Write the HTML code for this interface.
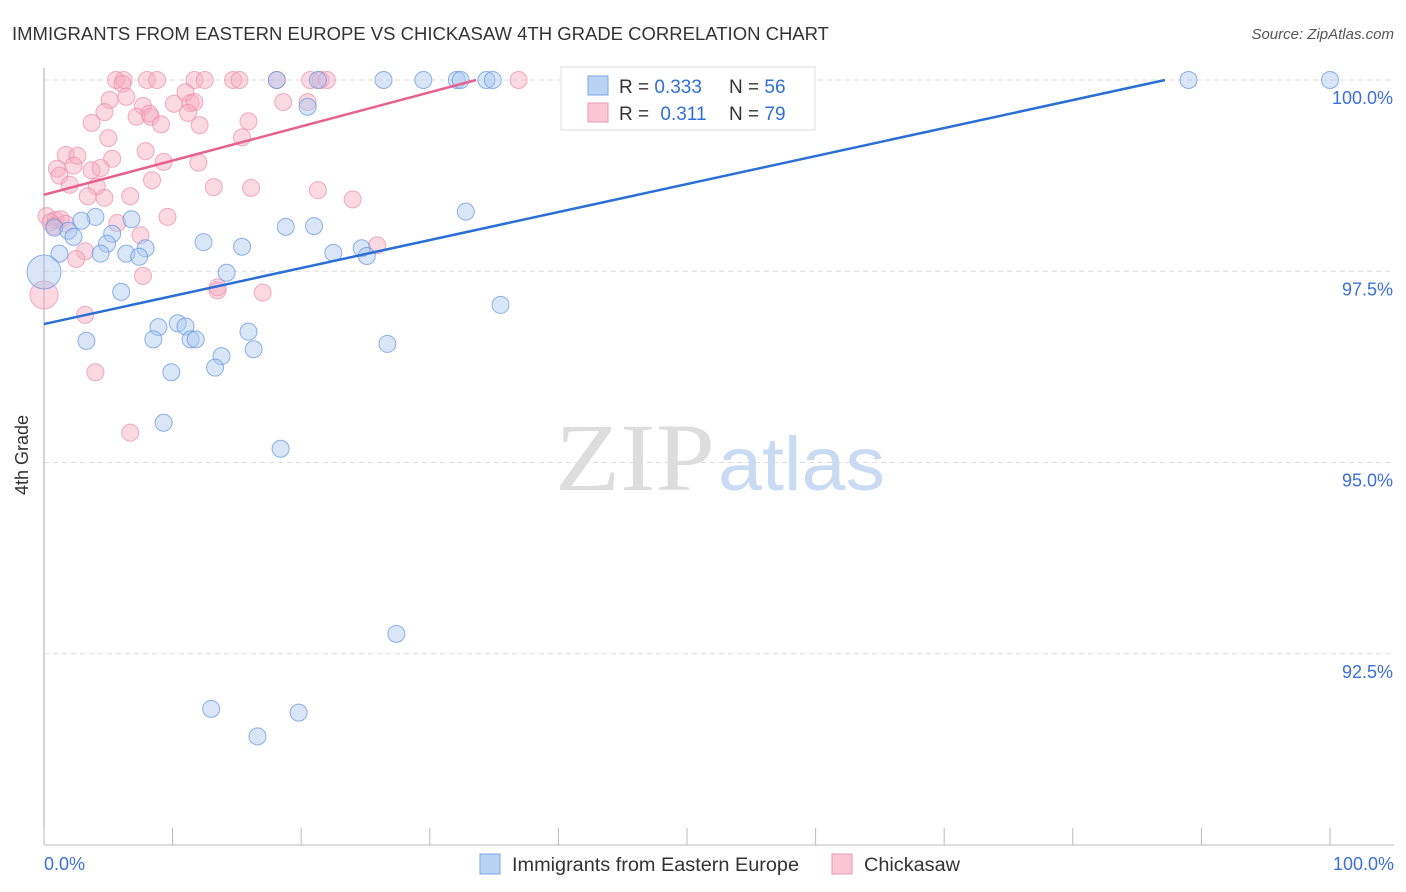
<!DOCTYPE html>
<html><head><meta charset="utf-8"><style>
body{margin:0;background:#fff;font-family:"Liberation Sans",sans-serif;}
#wrap{position:relative;width:1406px;height:892px;overflow:hidden;}
</style></head><body>
<div id="wrap">
<svg id="chart" width="1406" height="892" xmlns="http://www.w3.org/2000/svg">
<text x="12" y="40" font-size="18" fill="#333" textLength="817" lengthAdjust="spacingAndGlyphs">IMMIGRANTS FROM EASTERN EUROPE VS CHICKASAW 4TH GRADE CORRELATION CHART</text>
<text x="1394" y="39" font-size="15" fill="#555" font-style="italic" text-anchor="end">Source: ZipAtlas.com</text>
<g id="grid"></g>
<text x="555" y="490" font-size="96" fill="#ddd" font-family="Liberation Serif,serif" textLength="160" lengthAdjust="spacingAndGlyphs">ZIP</text>
<text x="718" y="490" font-size="76" fill="#c9daf3" textLength="167" lengthAdjust="spacingAndGlyphs">atlas</text>
<g id="points"></g>
<g id="lines"></g>
<text x="28" y="455" font-size="18" fill="#333" transform="rotate(-90 28 455)" text-anchor="middle">4th Grade</text>
<text x="44" y="870" font-size="18" fill="#3a6fd8">0.0%</text>
<text x="1394" y="870" font-size="18" fill="#3a6fd8" text-anchor="end">100.0%</text>
<g>
<rect x="561" y="67" width="254" height="63" fill="#fff" stroke="#ddd"/>
<rect x="588" y="76" width="20" height="19" fill="#b9d3f5" stroke="#7aa6e6"/>
<rect x="588" y="103" width="20" height="19" fill="#fac6d6" stroke="#ee9ab4"/>
<text x="619" y="93" font-size="19" fill="#333">R = <tspan fill="#2f6fd6">0.333</tspan></text>
<text x="729" y="93" font-size="19" fill="#333">N = <tspan fill="#2f6fd6">56</tspan></text>
<text x="619" y="120" font-size="19" fill="#333">R = <tspan fill="#2f6fd6" dx="6">0.311</tspan></text>
<text x="729" y="120" font-size="19" fill="#333">N = <tspan fill="#2f6fd6">79</tspan></text>
</g>
<g>
<rect x="480" y="854" width="20" height="20" fill="#b9d3f5" stroke="#7aa6e6"/>
<text x="512" y="871" font-size="19" fill="#333" textLength="287" lengthAdjust="spacingAndGlyphs">Immigrants from Eastern Europe</text>
<rect x="832" y="854" width="20" height="20" fill="#fac6d6" stroke="#ee9ab4"/>
<text x="864" y="871" font-size="19" fill="#333" textLength="96" lengthAdjust="spacingAndGlyphs">Chickasaw</text>
</g>
</svg>
</div>
<script>
const yTicks=[100,97.5,95,92.5];
const yTickLabels=["100.0%","97.5%","95.0%","92.5%"];
const xTicks=[0,10,20,30,40,50,60,70,80,90,100];
const blueX=[18.1,21.3,26.4,29.5,32.1,32.4,34.4,34.9,89.0,100,20.5,32.8,4.0,6.8,2.9,0.8,1.9,2.3,5.3,4.9,7.9,12.4,15.4,18.8,21.0,24.7,22.5,25.1,6.4,7.4,4.4,1.2,0,14.2,6.0,35.5,8.9,10.4,11.0,15.9,8.5,11.4,11.8,3.3,26.7,16.3,13.8,9.9,13.3,9.3,18.4,27.4,13.0,19.8,16.6];
const blueY=[100,100,100,100,100,100,100,100,100,100,99.65,98.28,98.21,98.18,98.16,98.07,98.03,97.95,97.99,97.86,97.80,97.88,97.82,98.08,98.09,97.80,97.74,97.70,97.73,97.69,97.73,97.73,97.49,97.48,97.23,97.06,96.77,96.82,96.78,96.71,96.61,96.61,96.61,96.59,96.55,96.48,96.39,96.18,96.24,95.52,95.18,92.76,91.78,91.73,91.42];
const blueBig=[32];
const pinkX=[5.6,6.2,8.0,8.8,11.7,12.5,14.7,15.2,18.1,20.7,21.5,22.0,36.9,6.1,6.4,5.1,4.7,11.0,7.7,10.1,11.4,11.7,7.2,8.3,8.2,11.2,3.7,9.1,12.1,20.5,5.0,15.4,15.9,18.6,7.9,5.3,1.7,2.6,1.0,3.7,4.4,2.3,9.3,12.0,1.2,2.0,4.1,8.4,13.2,16.1,21.3,24.0,3.4,6.7,4.7,0.2,0.9,1.3,1.7,9.6,5.7,7.5,25.9,3.2,2.5,7.7,13.5,13.5,17.0,0,3.2,4.0,6.7,0.5,0.8];
const pinkY=[100,100,100,100,100,100,100,100,100,100,100,100,100,99.95,99.78,99.74,99.58,99.84,99.66,99.69,99.70,99.71,99.52,99.52,99.56,99.57,99.44,99.42,99.41,99.71,99.24,99.25,99.46,99.71,99.07,98.97,99.02,99.01,98.84,98.82,98.85,98.88,98.93,98.92,98.75,98.63,98.61,98.69,98.60,98.59,98.56,98.44,98.48,98.48,98.46,98.22,98.17,98.18,98.12,98.21,98.13,97.97,97.84,97.76,97.66,97.44,97.25,97.29,97.22,97.19,96.93,96.18,95.39,98.14,98.09];
const pinkBig=[69];
const blueLine=[[0,96.81],[87.17,100]];
const pinkLine=[[0,98.50],[33.6,100]];
const X0=44,X1=1330,Y100=80,PXPER=76.5;
const sx=v=>X0+(X1-X0)*v/100;
const sy=v=>Y100+(100-v)*PXPER;
const NS="http://www.w3.org/2000/svg";
const grid=document.getElementById('grid');
function mk(t,a,p){const e=document.createElementNS(NS,t);for(const k in a)e.setAttribute(k,a[k]);p.appendChild(e);return e;}
yTicks.forEach((v,i)=>{
 const l=mk('line',{x1:44,x2:1394,y1:sy(v),y2:sy(v),stroke:'#ddd','stroke-dasharray':'5,4'},grid);
 
 
 const t=mk('text',{x:1393,y:sy(v)+24,'font-size':18,fill:'#3a6fd8','text-anchor':'end'},grid);
 t.textContent=yTickLabels[i];
 
 
});
const ax=mk('line',{x1:44,x2:44,y1:68,y2:845,stroke:'#aaa'},grid);


const bx=mk('line',{x1:44,x2:1394,y1:845,y2:845,stroke:'#bbb'},grid);


xTicks.forEach(v=>{
 const l=mk('line',{x1:sx(v),x2:sx(v),y1:828,y2:845,stroke:'#bbb'},grid);
 
 
});
const pts=document.getElementById('points');
function draw(xs,ys,big,fill,stroke,name,bigR){
 xs.forEach((x,i)=>{
  const r=big.includes(i)?bigR:8.5;
  const c=mk('circle',{cx:sx(x),cy:sy(ys[i]),r:r,fill:fill,'fill-opacity':0.45,stroke:stroke,'stroke-opacity':0.7,'stroke-width':1},pts);
  
  
 });
}
draw(pinkX,pinkY,pinkBig,'#f7aac2','#ec8aaa','point-chickasaw',14);
draw(blueX,blueY,blueBig,'#a9c8f0','#5f93e0','point-immigrants',17);
const lines=document.getElementById('lines');
const bl=mk('line',{x1:sx(blueLine[0][0]),y1:sy(blueLine[0][1]),x2:sx(blueLine[1][0]),y2:sy(blueLine[1][1]),stroke:'#2a6fd6','stroke-width':2.5},lines);


const pl=mk('line',{x1:sx(pinkLine[0][0]),y1:sy(pinkLine[0][1]),x2:sx(pinkLine[1][0]),y2:sy(pinkLine[1][1]),stroke:'#e8608f','stroke-width':2.5},lines);


</script>
</body></html>
